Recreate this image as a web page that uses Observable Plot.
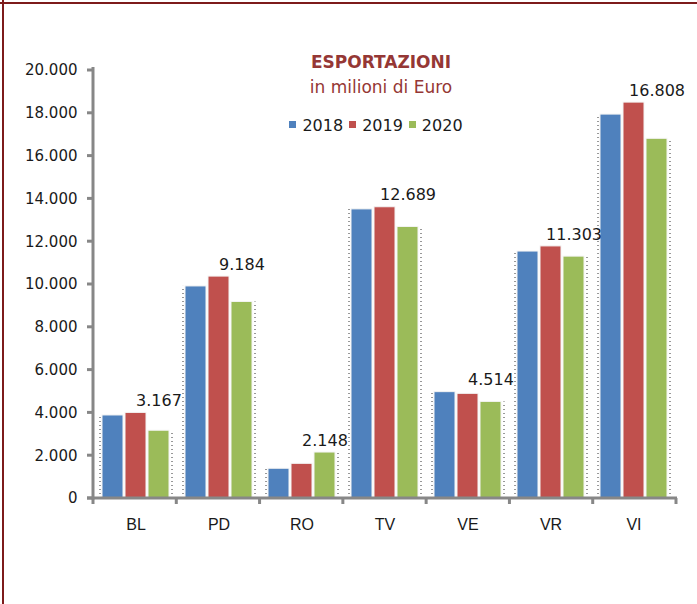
<!DOCTYPE html>
<html>
<head>
<meta charset="utf-8">
<script src="https://cdn.jsdelivr.net/npm/d3@7"></script>
<script src="https://cdn.jsdelivr.net/npm/@observablehq/plot@0.6"></script>
<style>
  html, body { margin: 0; padding: 0; background: #fff; }
  #wrap { position: relative; width: 697px; height: 604px; overflow: hidden; background: #fff; }
  #topline { position: absolute; left: 0; top: 2px; width: 697px; height: 2px; background: #7d1b1b; }
  #leftline { position: absolute; left: 2px; top: 0; width: 2px; height: 604px; background: #7d1b1b; }
  #title { position: absolute; left: 0; width: 762px; top: 52px; text-align: center;
           font-family: "DejaVu Sans", sans-serif; font-weight: bold; font-size: 17px; color: #953735; }
  #subtitle { position: absolute; left: 0; width: 762px; top: 77px; text-align: center;
           font-family: "DejaVu Sans", sans-serif; font-size: 17px; color: #953735; }
  #legend { position: absolute; left: 0; width: 752px; top: 116px; text-align: center;
           font-family: "DejaVu Sans", sans-serif; font-size: 16px; color: #1a1a1a; }
  #legend span.item { display: inline-block; margin: 0 3px; }
  #legend span.sw { display: inline-block; width: 7px; height: 7px; margin-right: 6px; vertical-align: 3px; }
  svg [aria-label^="fx-axis"] text, svg [aria-label^="fx-axis"] { font-family: "Liberation Sans", Arial, sans-serif !important; font-size: 16px !important; }
</style>
</head>
<body>
<div id="wrap">
  <div id="chart"></div>
  <div id="title">ESPORTAZIONI</div>
  <div id="subtitle">in milioni di Euro</div>
  <div id="legend"></div>
  <div id="topline"></div>
  <div id="leftline"></div>
</div>
<script>
const categories = ["BL", "PD", "RO", "TV", "VE", "VR", "VI"];
const years = ["2018", "2019", "2020"];
const values2018 = [3880, 9910, 1390, 13510, 4970, 11540, 17940];
const values2019 = [4000, 10370, 1620, 13610, 4890, 11780, 18500];
const values2020 = [3167, 9184, 2148, 12689, 4514, 11303, 16808];
const yTicks = [0, 2000, 4000, 6000, 8000, 10000, 12000, 14000, 16000, 18000, 20000];
const colors = ["#4F81BD", "#C0504D", "#9BBB59"];

const series = [values2018, values2019, values2020];
const rows = [];
categories.forEach((cat, i) => {
  const groupMax = Math.max(values2018[i], values2019[i], values2020[i]);
  years.forEach((year, j) => rows.push({cat, year, value: series[j][i], groupMax}));
});

const fmt = v => d3.format(",")(v).replace(/,/g, ".");

const plot = Plot.plot({
  width: 697,
  height: 604,
  marginLeft: 93,
  marginRight: 21,
  marginTop: 70,
  marginBottom: 106,
  style: {fontFamily: "DejaVu Sans, sans-serif", fontSize: "15px", color: "#1a1a1a", background: "transparent", overflow: "visible"},
  facet: {data: rows, x: "cat"},
  fx: {domain: categories, padding: 0, axis: "bottom", tickSize: 0, tickPadding: 20, label: null},
  x: {domain: years, axis: null, paddingInner: 0.08, paddingOuter: 0.3},
  y: {domain: [0, 20000], ticks: yTicks, tickFormat: fmt, tickSize: 0, tickPadding: 17, label: null},
  color: {domain: years, range: colors},
  marks: [
    Plot.ruleX(rows, {filter: d => d.year === "2018", x: "year", dx: -13, y1: 0, y2: "value",
      stroke: "#333", strokeWidth: 1, strokeDasharray: "1,3"}),
    Plot.ruleX(rows, {filter: d => d.year === "2020", x: "year", dx: 13, y1: 0, y2: "value",
      stroke: "#333", strokeWidth: 1, strokeDasharray: "1,3"}),
    Plot.barY(rows, {x: "year", y: "value", fill: "year", stroke: "#f4f4f4", strokeWidth: 1}),
    Plot.text(rows, {filter: d => d.year === "2020", x: "year", y: "groupMax", dy: -12,
      text: d => fmt(d.value), fill: "#1a1a1a", fontSize: 16})
  ]
});
document.getElementById("chart").appendChild(plot);

// axis lines and tick marks drawn from the plot's own scales
const ys = plot.scale("y");
const fxs = plot.scale("fx");
const yMap = v => ys.range[0] + (v - ys.domain[0]) / (ys.domain[1] - ys.domain[0]) * (ys.range[1] - ys.range[0]);
const x0 = fxs.range[0], x1 = fxs.range[1];
const step = (x1 - x0) / fxs.domain.length;
const svg = d3.select(plot);
const g = svg.append("g").attr("stroke", "#878787").attr("stroke-width", 3).attr("fill", "none");
g.append("line").attr("x1", x0).attr("x2", x0).attr("y1", yMap(20000) - 3).attr("y2", yMap(0) + 1.5);
yTicks.forEach(t => g.append("line").attr("x1", x0 - 6).attr("x2", x0).attr("y1", yMap(t)).attr("y2", yMap(t)));
g.append("line").attr("x1", x0 - 6).attr("x2", x1 + 1).attr("y1", yMap(0)).attr("y2", yMap(0));
for (let i = 0; i <= fxs.domain.length; i++) {
  const x = x0 + i * step;
  g.append("line").attr("x1", x).attr("x2", x).attr("y1", yMap(0)).attr("y2", yMap(0) + 6);
}

// legend
const legend = document.getElementById("legend");
years.forEach((y, i) => {
  const item = document.createElement("span");
  item.className = "item";
  item.innerHTML = `<span class="sw" style="background:${colors[i]}"></span>${y}`;
  legend.appendChild(item);
});
</script>
</body>
</html>
